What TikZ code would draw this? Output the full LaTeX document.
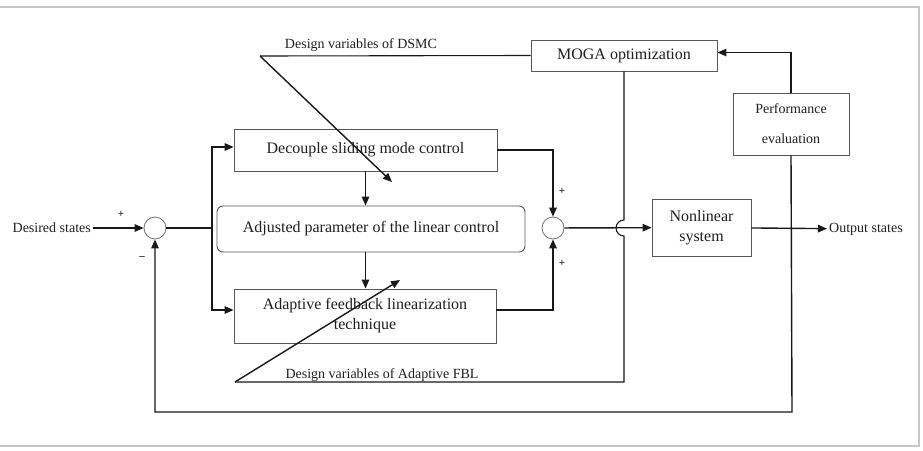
\documentclass[tikz,border=0pt]{standalone}
\usepackage{fontspec}
\setmainfont{Liberation Serif}
\usetikzlibrary{arrows.meta,calc}
\begin{document}
\begin{tikzpicture}[x=1pt,y=-1pt,
  every node/.style={text=black!88},
  box/.style={draw=black!65,line width=0.9pt,inner sep=0pt,font=\rmfamily\fontsize{16}{20}\selectfont,align=center},
  sumc/.style={draw=black!55,line width=0.8pt,circle,minimum size=22pt,inner sep=0pt},
  small/.style={font=\rmfamily\fontsize{14}{16}\selectfont,inner sep=2pt},
  sign/.style={font=\rmfamily\fontsize{11}{12}\selectfont\bfseries,inner sep=0pt},
  line/.style={line width=1.1pt,draw=black!90},
  arr/.style={line width=1.4pt,draw=black!90,-{Triangle[length=9pt,width=7.5pt]}}]
\useasboundingbox (0,0) rectangle (923,450);
\draw[black!22,line width=1.4pt] (0,7) -- (919,7) -- (919,446) -- (0,446);

% nodes
\node[small,anchor=east] (ds) at (93,228) {Desired states};
\node[sumc] (s1) at (155,228) {};
\node[box,minimum width=263pt,minimum height=42pt] (dsmc) at (365.5,150) {Decouple sliding mode control};
\node[box,rounded corners=6pt,minimum width=308pt,minimum height=46pt] (adj) at (371,229) {Adjusted parameter of the linear control};
\node[box,minimum width=262pt,minimum height=54pt] (afbl) at (365,316) {Adaptive feedback linearization\\technique};
\node[sumc] (s2) at (553,228) {};
\node[box,minimum width=99pt,minimum height=57pt] (nl) at (701.5,227.5) {Nonlinear\\system};
\node[small,anchor=west] (out) at (827,229) {Output states};
\node[box,font=\rmfamily\fontsize{14}{30}\selectfont,minimum width=116pt,minimum height=62pt] (perf) at (791,124) {Performance\\evaluation};
\node[box,minimum width=186pt,minimum height=31pt] (moga) at (624,55.5) {MOGA optimization};
\node[small] (dv1) at (361,45) {Design variables of DSMC};
\node[small] (dv2) at (382,375) {Design variables of Adaptive FBL};
\node[sign] (p1) at (121,214) {+};
\node[sign] (m1) at (142,258) {\textendash};
\node[sign] (p2) at (562,191) {+};
\node[sign] (p3) at (562,263) {+};

% coordinates
\coordinate (split) at (212,228);
\coordinate (c1) at (260,56);
\coordinate (t1) at (392,182);
\coordinate (hopa) at (624,220);
\coordinate (c2) at (235,382);
\coordinate (t2) at (400,280);
\coordinate (fb) at (792,412);

% connectors
\draw[arr] (ds) -- (s1);
\draw[line] (s1) -- (split);
\draw[arr] (split) |- ([yshift=3pt]dsmc.west);
\draw[arr] (split) |- ([yshift=6pt]afbl.west);
\draw[arr] (dsmc.south) -- (adj.north -| dsmc.south);
\draw[arr] (adj.south -| dsmc.south) -- (afbl.north -| dsmc.south);
\draw[arr] (dsmc.east) -| (s2.north);
\draw[arr] ([yshift=6pt]afbl.east) -| (s2.south);
\draw[arr] (s2) -- (nl);
\draw[arr] (nl) -- (out);
\draw[arr] (perf.south) -- (fb) -| (s1.south);
\draw[arr] (perf.north) |- ([yshift=3pt]moga.east);
\draw[line] (moga.west) -- (c1);
\draw[arr] (c1) -- (t1);
\draw[line] (moga.south -| hopa) -- (hopa) arc[start angle=270,end angle=90,radius=8] -- (624,382) -- (c2);
\draw[arr] (c2) -- (t2);
\end{tikzpicture}
\end{document}
